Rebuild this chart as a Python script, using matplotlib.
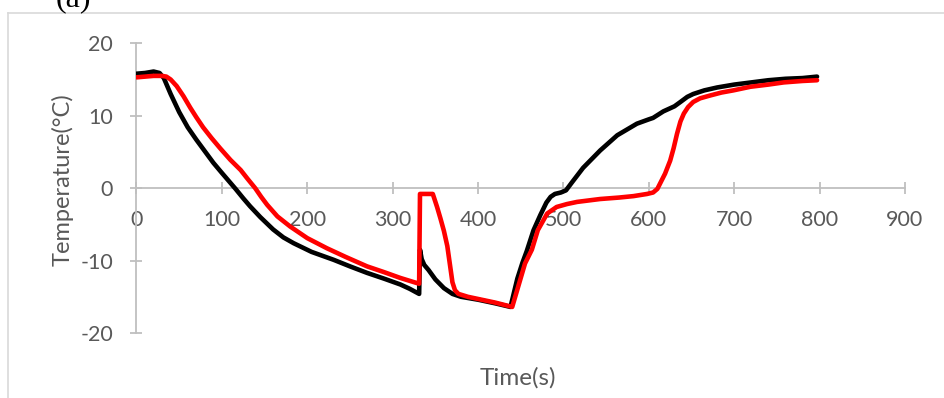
import matplotlib
matplotlib.use("Agg")
import matplotlib.pyplot as plt
from matplotlib.lines import Line2D

time_black = [0, 10, 20, 27, 32, 40, 50, 60, 70, 80, 90, 100, 108, 116, 125, 133, 145, 160, 172,
              184, 205, 231, 250, 270, 290, 309, 320, 331, 332, 334, 337, 342, 350, 360, 370, 380,
              400, 420, 438, 446, 452, 457, 465, 473, 480, 485, 490, 497, 503, 510, 523, 543, 563,
              586, 600, 605, 617, 630, 637, 645, 652, 665, 680, 700, 720, 740, 760, 780, 797]
temp_black = [15.8, 15.9, 16.1, 15.9, 15.2, 13.0, 10.5, 8.4, 6.7, 5.1, 3.5, 2.1, 1.0, -0.1, -1.4,
              -2.5, -4.0, -5.7, -6.8, -7.6, -8.8, -9.9, -10.8, -11.7, -12.5, -13.3, -13.9, -14.6,
              -8.5, -9.8, -10.6, -11.3, -12.6, -13.8, -14.6, -15.0, -15.4, -15.9, -16.4, -12.5,
              -10.3, -8.7, -5.8, -3.7, -2.0, -1.2, -0.8, -0.6, -0.3, 0.8, 2.8, 5.2, 7.3, 8.9, 9.5,
              9.7, 10.6, 11.3, 11.9, 12.6, 13.0, 13.5, 13.9, 14.3, 14.6, 14.9, 15.1, 15.2, 15.4]

time_red = [0, 10, 20, 30, 35, 40, 47, 55, 63, 70, 78, 88, 98, 110, 122, 130, 139, 146, 153, 165,
            180, 200, 223, 245, 270, 290, 309, 320, 331, 332, 340, 347, 352, 356, 360, 364, 367,
            370, 373, 377, 388, 400, 420, 440, 448, 455, 463, 470, 481, 492, 504, 516, 543, 565,
            582, 598, 605, 610, 613, 619, 625, 629, 633, 637, 641, 646, 652, 660, 672, 685, 699,
            719, 740, 758, 780, 797]
temp_red = [15.3, 15.4, 15.5, 15.5, 15.4, 15.0, 14.1, 12.7, 11.1, 9.8, 8.4, 6.9, 5.5, 3.9, 2.5,
            1.3, 0.0, -1.2, -2.3, -3.9, -5.3, -6.9, -8.3, -9.5, -10.8, -11.6, -12.4, -12.8, -13.2,
            -0.8, -0.8, -0.8, -2.6, -4.2, -5.9, -8.0, -10.5, -13.0, -14.1, -14.6, -15.0, -15.3,
            -15.8, -16.4, -13.2, -10.4, -8.5, -5.8, -3.5, -2.6, -2.2, -1.9, -1.5, -1.3, -1.1,
            -0.8, -0.6, -0.1, 0.6, 2.0, 3.8, 5.5, 7.5, 9.2, 10.3, 11.2, 11.9, 12.4, 12.8, 13.2,
            13.5, 14.0, 14.3, 14.6, 14.8, 14.9]

x_ticks = [0, 100, 200, 300, 400, 500, 600, 700, 800, 900]
y_ticks = [-20, -10, 0, 10, 20]

FONT = "Lato"
GRAY_TXT = "#595959"
AX_GRAY = "#bfbfbf"

fig = plt.figure(figsize=(9.45, 3.98), dpi=100)
ax = fig.add_axes([136.5 / 945, (398 - 333) / 398, (905 - 136.5) / 945, (333 - 43.3) / 398])

ax.plot(time_black, temp_black, color="black", lw=3.3, solid_joinstyle="round", solid_capstyle="round", zorder=3)
ax.plot(time_red, temp_red, color="#ff0000", lw=3.3, solid_joinstyle="round", solid_capstyle="round", zorder=4)

ax.set_xlim(0, 900)
ax.set_ylim(-20, 20)
ax.set_xticks(x_ticks)
ax.set_yticks(y_ticks)
ax.set_xticklabels([str(v) for v in x_ticks])
ax.set_yticklabels([str(v) for v in y_ticks])

for s in ["top", "right"]:
    ax.spines[s].set_visible(False)
ax.spines["left"].set_position(("data", 0))
ax.spines["bottom"].set_position(("data", 0))
for s in ["left", "bottom"]:
    ax.spines[s].set_color(AX_GRAY)
    ax.spines[s].set_linewidth(1.3)
ax.tick_params(axis="both", direction="inout", length=8, width=1.3, color=AX_GRAY,
               labelcolor=GRAY_TXT, labelsize=15.5)
ax.tick_params(axis="x", pad=12)
ax.tick_params(axis="y", pad=13)
for lab in ax.get_xticklabels() + ax.get_yticklabels():
    lab.set_fontfamily(FONT)
ax.patch.set_visible(False)

fig.text(63 / 945, 1 - 180 / 398, "Temperature(°C)", rotation=90, ha="center", va="center",
         fontsize=17, color=GRAY_TXT, family=FONT)
fig.text(518 / 945, 1 - 378 / 398, "Time(s)", ha="center", va="center",
         fontsize=17.5, color=GRAY_TXT, family=FONT)
fig.text(73 / 945, 1 - 6 / 398, "(a)", ha="center", va="baseline", fontsize=23,
         color="black", family="Liberation Serif")

# chart area border (cropped)
fig.add_artist(Line2D([8.3 / 945, 8.3 / 945], [0, 1 - 12.7 / 398], transform=fig.transFigure,
                      color="#d9d9d9", lw=1.2))
fig.add_artist(Line2D([8.3 / 945, 1], [1 - 12.7 / 398, 1 - 12.7 / 398], transform=fig.transFigure,
                      color="#d9d9d9", lw=1.2))

fig.savefig("out.png", dpi=100)
